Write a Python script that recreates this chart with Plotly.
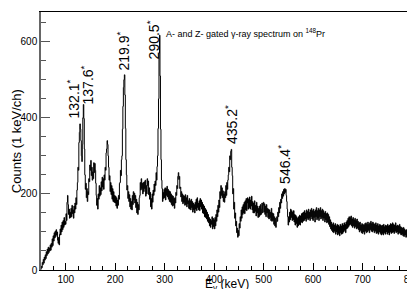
import plotly.graph_objects as go

energy_start = 50  # keV, 1 keV/ch
counts = [
    2, 10, 6, 20, 14, 28, 18, 34, 26, 40,
    30, 48, 38, 55, 42, 60, 46, 58, 50, 66,
    52, 70, 60, 82, 64, 90, 76, 98, 84, 102,
    88, 106, 92, 100, 78, 70, 86, 66, 94, 108,
    92, 118, 100, 126, 106, 130, 112, 138, 118, 128,
    120, 148, 130, 178, 196, 172, 146, 160, 136, 152,
    138, 162, 140, 170, 148, 158, 136, 168, 150, 176,
    160, 190, 172, 210, 230, 270, 262, 335, 362, 384,
    370, 340, 300, 285, 330, 400, 435, 398, 318, 250,
    212, 228, 190, 214, 180, 206, 198, 240, 232, 276,
    262, 288, 248, 270, 236, 258, 240, 282, 256, 280,
    262, 228, 196, 170, 188, 160, 200, 186, 222, 194,
    216, 198, 232, 208, 244, 218, 240, 212, 250, 236,
    270, 262, 308, 318, 340, 330, 300, 270, 236, 248,
    206, 230, 198, 222, 186, 214, 180, 206, 178, 196,
    176, 194, 168, 190, 162, 184, 170, 196, 186, 228,
    230, 262, 248, 290, 300, 370, 430, 480, 500, 513,
    460, 372, 290, 250, 210, 222, 188, 206, 180, 198,
    166, 188, 160, 180, 158, 196, 172, 206, 184, 202,
    176, 196, 164, 186, 150, 178, 146, 172, 158, 190,
    196, 230, 210, 240, 214, 228, 200, 230, 206, 232,
    214, 236, 194, 222, 200, 240, 222, 234, 198, 216,
    186, 204, 166, 188, 160, 200, 178, 210, 196, 226,
    206, 234, 222, 256, 236, 272, 300, 372, 450, 570,
    617, 510, 370, 290, 236, 214, 180, 204, 188, 212,
    190, 216, 184, 214, 196, 220, 192, 212, 186, 208,
    180, 206, 178, 200, 172, 196, 168, 194, 170, 188,
    162, 190, 176, 204, 196, 222, 214, 246, 256, 238,
    246, 214, 218, 192, 206, 180, 200, 174, 196, 178,
    194, 170, 198, 172, 190, 166, 196, 174, 182, 162,
    188, 160, 182, 158, 186, 164, 180, 152, 176, 158,
    172, 150, 178, 160, 186, 156, 190, 164, 176, 158,
    182, 156, 188, 166, 184, 160, 178, 150, 172, 148,
    168, 140, 162, 138, 158, 134, 152, 128, 146, 124,
    138, 116, 134, 112, 130, 120, 140, 108, 136, 114,
    132, 108, 138, 116, 146, 128, 158, 140, 170, 152,
    184, 164, 206, 188, 222, 196, 216, 190, 208, 180,
    200, 178, 206, 190, 222, 196, 230, 212, 236, 250,
    270, 258, 300, 290, 312, 317, 270, 248, 200, 214,
    160, 178, 136, 150, 116, 128, 98, 110, 86, 104,
    90, 122, 110, 140, 128, 158, 136, 166, 146, 172,
    150, 178, 148, 182, 158, 188, 156, 176, 190, 160,
    186, 164, 192, 160, 184, 168, 194, 158, 180, 150,
    176, 150, 182, 154, 170, 142, 178, 150, 168, 138,
    162, 140, 168, 144, 172, 146, 160, 176, 150, 170,
    178, 152, 174, 146, 168, 140, 172, 150, 162, 138,
    160, 134, 158, 138, 152, 130, 162, 128, 150, 130,
    148, 120, 140, 116, 136, 112, 126, 140, 128, 152,
    140, 164, 150, 178, 162, 186, 176, 200, 188, 206,
    194, 212, 200, 214, 204, 212, 196, 180, 160, 140,
    118, 140, 126, 152, 132, 160, 138, 156, 130, 152,
    132, 156, 126, 146, 118, 144, 122, 140, 112, 136,
    116, 140, 120, 144, 118, 142, 126, 148, 124, 150,
    128, 152, 130, 156, 134, 150, 128, 158, 136, 154,
    132, 160, 136, 152, 130, 158, 140, 162, 134, 156,
    130, 160, 138, 154, 126, 158, 140, 164, 132, 156,
    136, 162, 130, 158, 140, 164, 134, 156, 138, 160,
    130, 156, 136, 150, 126, 154, 132, 148, 124, 150,
    126, 146, 120, 140, 114, 132, 108, 126, 104, 120,
    100, 124, 98, 118, 102, 122, 94, 116, 100, 120,
    92, 118, 96, 114, 90, 120, 98, 116, 94, 122,
    96, 118, 100, 124, 104, 120, 98, 126, 108, 130,
    110, 136, 114, 140, 118, 138, 120, 142, 116, 134,
    112, 138, 116, 132, 110, 136, 114, 130, 108, 134,
    110, 128, 106, 124, 100, 126, 104, 118, 98, 122,
    96, 120, 100, 118, 94, 122, 102, 124, 98, 120,
    100, 126, 104, 120, 98, 124, 106, 128, 102, 122,
    100, 126, 104, 122, 98, 120, 102, 124, 96, 118,
    98, 122, 94, 116, 100, 120, 96, 118, 92, 116,
    96, 118, 92, 120, 98, 114, 94, 118, 100, 116,
    94, 120, 98, 116, 92, 118, 100, 122, 96, 120,
    98, 124, 100, 120, 96, 118, 102, 124, 98, 116,
    100, 118, 94, 116, 98, 120, 96, 114, 92, 112,
    94, 110, 90, 112, 88, 108, 92, 104, 86, 106,
    88, 102, 84, 104, 80, 98, 82, 94, 76, 88,
    72,
]
energies = [energy_start + i for i in range(len(counts))]

peak_labels = ["132.1", "137.6", "219.9", "290.5", "435.2", "546.4"]
label_x = [115, 145, 216, 276, 434, 541]
label_y = [392, 431, 518, 549, 327, 222]

x_ticks = [100, 200, 300, 400, 500, 600, 700, 800]
y_ticks = [0, 200, 400, 600]

title_text = "A- and Z- gated γ-ray spectrum on <sup>148</sup>Pr"

FONT = "Liberation Sans, Arial, Helvetica, sans-serif"

fig = go.Figure()
fig.add_trace(go.Scatter(
    x=energies, y=counts, mode="lines",
    line=dict(color="black", width=1, shape="hvh"),
    hoverinfo="skip", showlegend=False,
))

for lab, lx, ly in zip(peak_labels, label_x, label_y):
    fig.add_annotation(
        x=lx, y=ly, text=lab + "<sup>*</sup>", showarrow=False,
        textangle=-90, xanchor="center", yanchor="bottom",
        font=dict(family=FONT, size=14, color="black"),
    )

fig.add_annotation(
    x=298, y=623, text=title_text, showarrow=False,
    xanchor="left", yanchor="middle",
    font=dict(family=FONT, size=9, color="black"),
)

# axis titles
fig.add_annotation(
    xref="paper", yref="paper", x=-0.067, y=0.5,
    text="Counts (1 keV/ch)", textangle=-90, showarrow=False,
    xanchor="center", yanchor="middle",
    font=dict(family=FONT, size=13, color="black"),
)
fig.add_annotation(
    xref="paper", yref="paper", x=0.5, y=-0.058,
    text="E<sub>γ</sub> (keV)", showarrow=False,
    xanchor="center", yanchor="middle",
    font=dict(family=FONT, size=12, color="black"),
)

fig.update_layout(
    width=415, height=289,
    margin=dict(l=33, r=11, t=4, b=27, autoexpand=False),
    paper_bgcolor="white", plot_bgcolor="white",
    font=dict(family=FONT, size=10, color="black"),
)
fig.update_xaxes(
    range=[50, 800], tickvals=x_ticks, ticks="inside", ticklen=7,
    tickcolor="black", showgrid=False, zeroline=False, automargin=False,
    showline=True, linecolor="black", linewidth=1, mirror=True,
    minor=dict(dtick=25, tick0=0, ticks="inside", ticklen=4, tickcolor="black"),
    tickfont=dict(family=FONT, size=10),
)
fig.update_yaxes(
    range=[0, 678], tickvals=y_ticks, ticks="inside", ticklen=9,
    tickcolor="#555", showgrid=False, zeroline=False, automargin=False,
    showline=True, linecolor="#666", linewidth=1.5, mirror=True,
    minor=dict(dtick=50, tick0=0, ticks="inside", ticklen=5, tickcolor="#555"),
    tickfont=dict(family=FONT, size=10),
)

fig.write_html("out.html")
